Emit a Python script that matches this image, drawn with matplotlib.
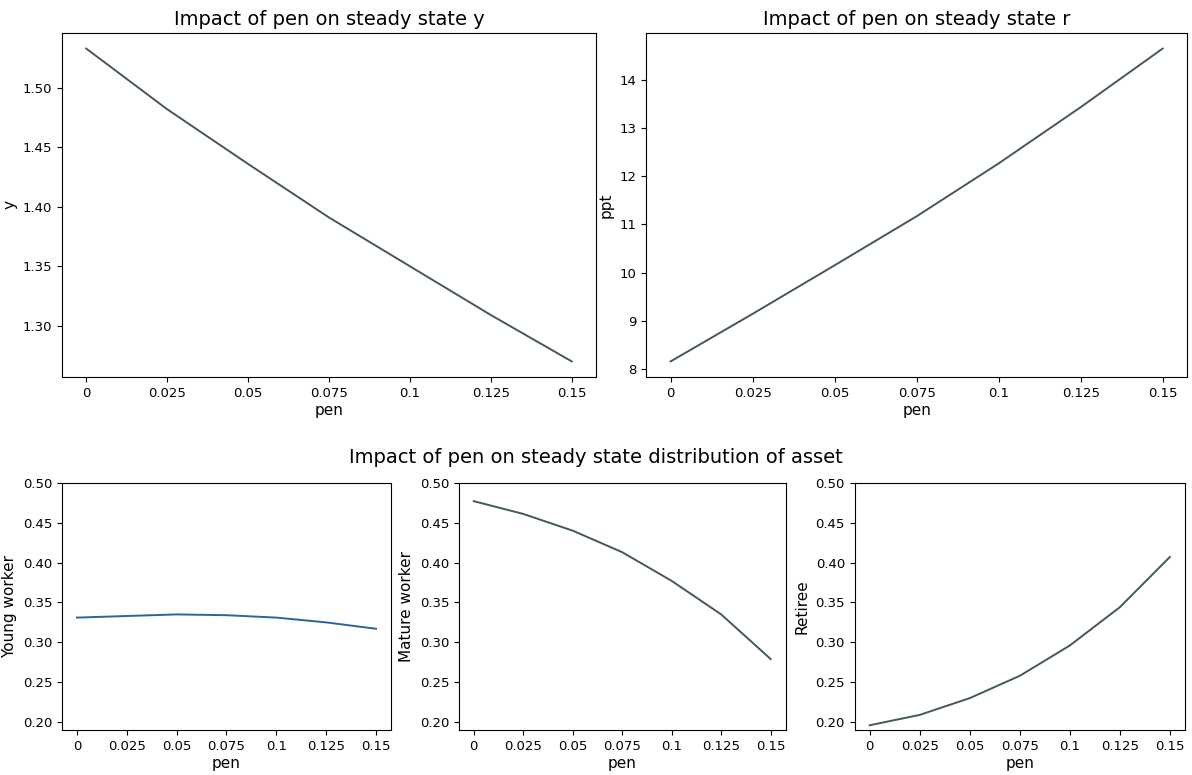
import numpy as np
import matplotlib
matplotlib.use("Agg")
import matplotlib.pyplot as plt

# pension replacement rates on the grid
pen = [0, 0.025, 0.05, 0.075, 0.1, 0.125, 0.15]
pen_labels = ["0", "0.025", "0.05", "0.075", "0.1", "0.125", "0.15"]

# steady state output and interest rate (ppt)
ss_y = [1.533, 1.482, 1.436, 1.391, 1.350, 1.309, 1.270]
ss_r = [8.15, 9.14, 10.15, 11.17, 12.27, 13.44, 14.66]

# asset shares by age group
young = [0.331, 0.333, 0.335, 0.334, 0.331, 0.325, 0.317]
mature = [0.477, 0.461, 0.440, 0.413, 0.377, 0.335, 0.279]
retiree = [0.196, 0.209, 0.230, 0.258, 0.296, 0.344, 0.407]

line_col = "#44585a"

fig = plt.figure(figsize=(11.92, 7.75), dpi=100)

ax1 = fig.add_axes([0.052, 0.5135, 0.448, 0.444])
ax2 = fig.add_axes([0.542, 0.5135, 0.454, 0.444])
ax3 = fig.add_axes([0.052, 0.058, 0.276, 0.319])
ax4 = fig.add_axes([0.385, 0.058, 0.274, 0.319])
ax5 = fig.add_axes([0.717, 0.058, 0.277, 0.319])

ax1.plot(pen, ss_y, color=line_col, lw=1.4)
ax1.set_title("Impact of pen on steady state y", fontsize=14)
ax1.set_ylabel("y", fontsize=11)

ax2.plot(pen, ss_r, color=line_col, lw=1.4)
ax2.set_title("Impact of pen on steady state r", fontsize=14)
ax2.set_ylabel("ppt", fontsize=11)

ax3.plot(pen, young, color="#2c659a", lw=1.4)
ax3.set_ylabel("Young worker", fontsize=11)
ax4.plot(pen, mature, color=line_col, lw=1.4)
ax4.set_ylabel("Mature worker", fontsize=11)
ax5.plot(pen, retiree, color=line_col, lw=1.4)
ax5.set_ylabel("Retiree", fontsize=11)

for ax in [ax3, ax4, ax5]:
    ax.set_ylim(0.19, 0.50)
    ax.set_yticks([0.20, 0.25, 0.30, 0.35, 0.40, 0.45, 0.50])

for ax in [ax1, ax2, ax3, ax4, ax5]:
    ax.set_xticks(pen)
    ax.set_xticklabels(pen_labels)
    ax.set_xlabel("pen", fontsize=11, labelpad=2)
    ax.tick_params(labelsize=9.5)

fig.text(0.5, 0.402, "Impact of pen on steady state distribution of asset",
         ha="center", fontsize=14)

fig.savefig("out.png", dpi=100)
